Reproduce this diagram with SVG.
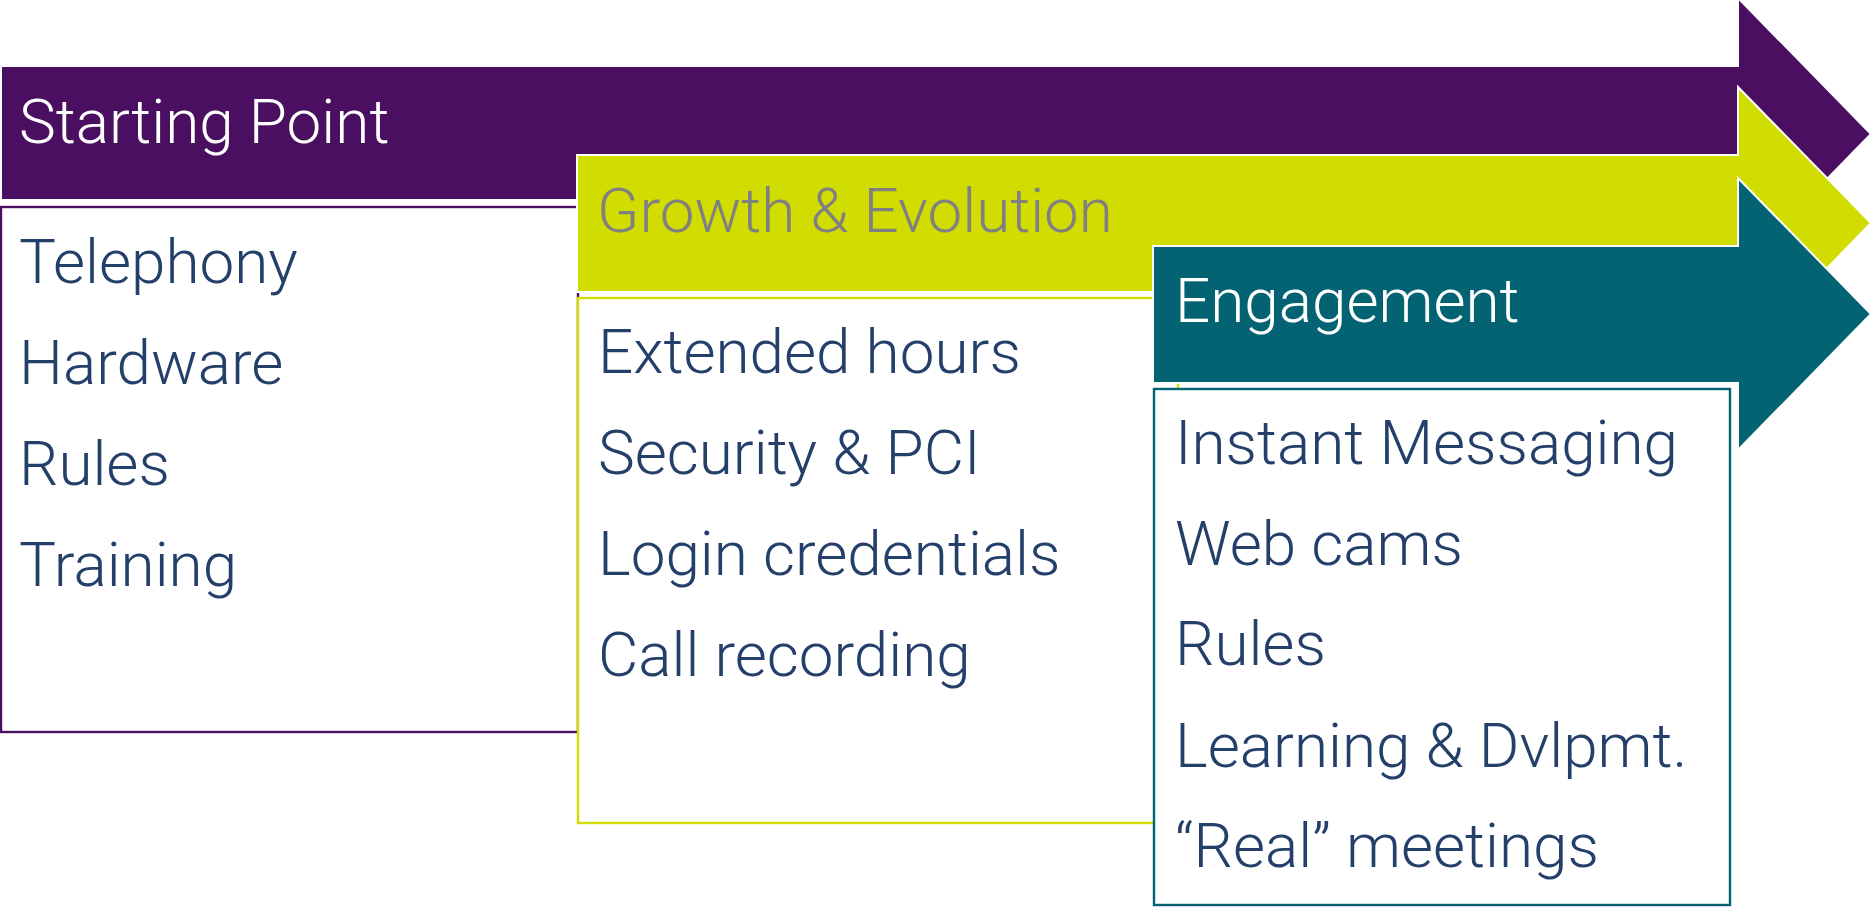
<svg xmlns="http://www.w3.org/2000/svg" width="1870" height="907" viewBox="0 0 1870 907">
  <style>
    .arrow { stroke: #ffffff; stroke-width: 2; }
    .purple { fill: #4b0f61; }
    .green { fill: #d1dc00; }
    .teal { fill: #036372; }
    .box { fill: #ffffff; stroke-width: 2.4; }
    .title { font-family: Roboto, "Liberation Sans", sans-serif; font-weight: 300; font-size: 62px; }
    .item { font-family: Roboto, "Liberation Sans", sans-serif; font-weight: 300; font-size: 62px; fill: #253f6b; }
  </style>
  <rect width="1870" height="907" fill="#ffffff"/>

  <!-- Stage 1: Starting Point -->
  <g id="stage-starting-point">
    <path class="arrow purple" d="M1,66 H1738 V-2 L1871,134 L1738,270 V200 H1 Z"/>
    <text class="title" x="19" y="143" fill="#ffffff">Starting Point</text>
    <rect class="box" x="1" y="207" width="577" height="525" stroke="#4b0f61"/>
    <text class="item" x="19" y="283">Telephony</text>
    <text class="item" x="19" y="384">Hardware</text>
    <text class="item" x="19" y="485">Rules</text>
    <text class="item" x="19" y="586">Training</text>
  </g>

  <!-- Stage 2: Growth & Evolution -->
  <g id="stage-growth-evolution">
    <path class="arrow green" d="M577,155 H1738 V87 L1871,223 L1738,360 V292 H577 Z"/>
    <text class="title" x="597" y="232" fill="#808080">Growth &amp; Evolution</text>
    <rect class="box" x="578" y="298" width="600" height="525" stroke="#d1dc00"/>
    <text class="item" x="598" y="373">Extended hours</text>
    <text class="item" x="598" y="474">Security &amp; PCI</text>
    <text class="item" x="598" y="575">Login credentials</text>
    <text class="item" x="598" y="676">Call recording</text>
  </g>

  <!-- Stage 3: Engagement -->
  <g id="stage-engagement">
    <path class="arrow teal" d="M1153,246 H1738 V178 L1871,314 L1738,450 V383 H1153 Z"/>
    <text class="title" x="1175" y="322" fill="#ffffff">Engagement</text>
    <rect class="box" x="1154" y="389" width="576" height="516" stroke="#036372"/>
    <text class="item" x="1175" y="464">Instant Messaging</text>
    <text class="item" x="1175" y="565">Web cams</text>
    <text class="item" x="1175" y="665">Rules</text>
    <text class="item" x="1175" y="767">Learning &amp; Dvlpmt.</text>
    <text class="item" x="1175" y="867">“Real” meetings</text>
  </g>

  <!-- no connectors: the stages are linked by their arrow shapes -->
  <g id="connectors"/>
</svg>
